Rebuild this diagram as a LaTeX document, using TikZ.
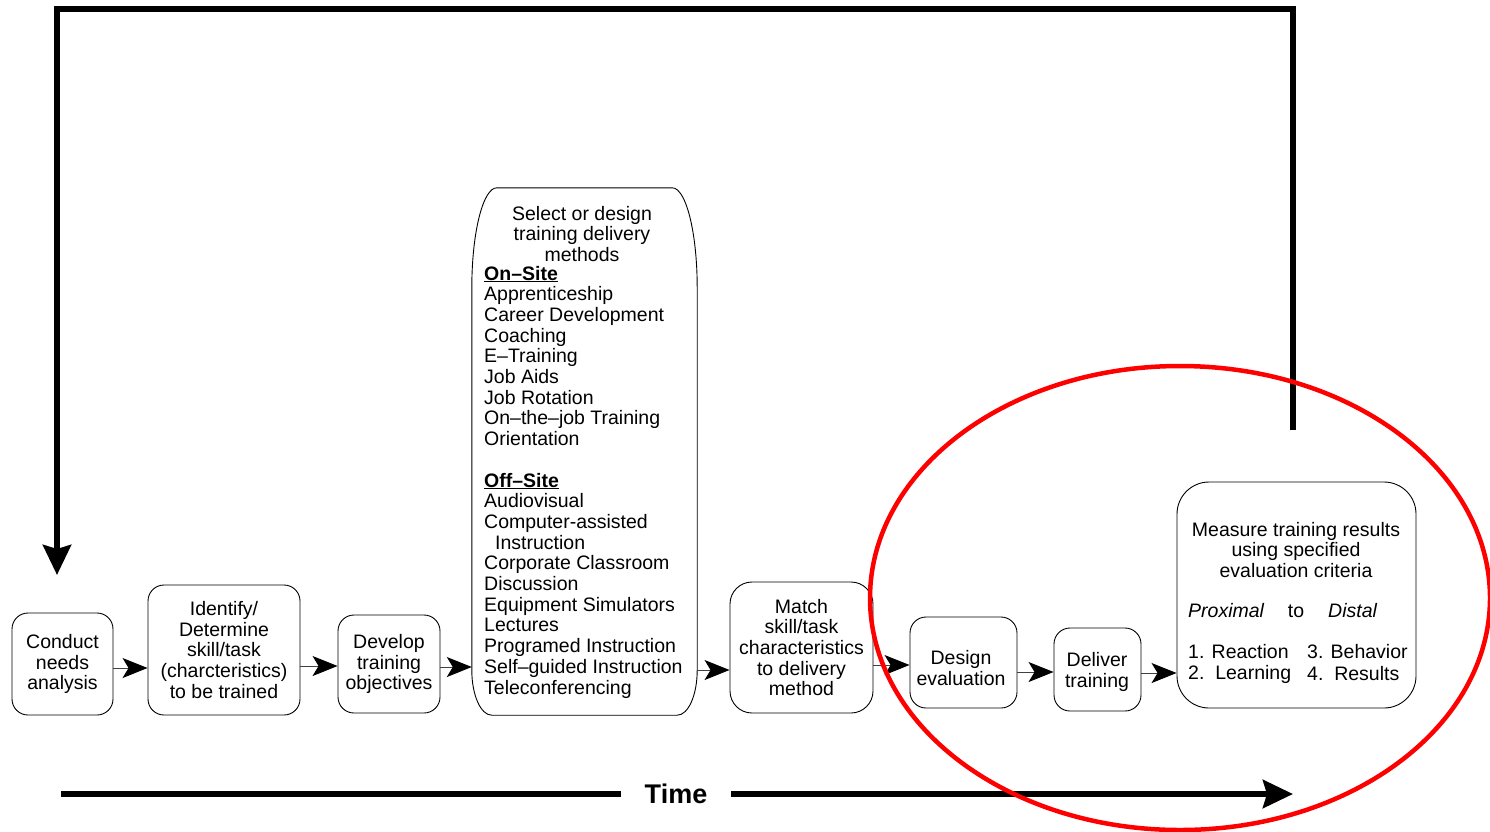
\documentclass[tikz,border=0pt]{standalone}
\usepackage{fontspec}
\setmainfont{Liberation Sans}
\usetikzlibrary{arrows.meta}
\newcommand\bodyfont{\fontsize{19.5}{20.7}\selectfont}
\newcommand\timefont{\fontsize{27}{30}\selectfont\bfseries}
\begin{document}
\begin{tikzpicture}[x=1pt,y=-1pt,
  box/.style={draw, line width=0.9pt, rounded corners=16pt, align=center,
              inner sep=0pt, font=\bodyfont},
  txt/.style={inner sep=0pt, font=\bodyfont},
  flow/.style={draw=black!75, line width=1pt,
               -{Stealth[length=25pt,width=20pt,inset=6pt,black]}},
  heavy/.style={line width=6pt, line join=miter,
               -{Stealth[length=30pt,width=28pt,inset=4pt]}}]
\useasboundingbox (0,0) rectangle (1490,831);

% process steps
\node[box, minimum width=101pt, minimum height=102pt] (conduct) at (62.5,664)
  {Conduct\\needs\\analysis};
\node[box, minimum width=152pt, minimum height=130pt] (identify) at (224,650)
  {Identify/\\Determine\\skill/task\\(charcteristics)\\to be trained};
\node[box, minimum width=102pt, minimum height=98pt] (develop) at (389,664)
  {Develop\\training\\objectives};

% delivery methods column (outline drawn with elliptical corners)
\node[minimum width=225pt, minimum height=527pt, inner sep=0pt] (select) at (584.5,451.5) {};
\draw[line width=0.9pt]
  ([yshift=100pt]select.south west) -- ([yshift=-100pt]select.north west)
  arc[start angle=180, end angle=90, x radius=25pt, y radius=100pt]
  -- ([xshift=-25pt]select.north east)
  arc[start angle=90, end angle=0, x radius=25pt, y radius=100pt]
  -- ([yshift=45pt]select.south east)
  arc[start angle=0, end angle=-90, x radius=20pt, y radius=45pt]
  -- ([xshift=20pt]select.south west)
  arc[start angle=270, end angle=180, x radius=20pt, y radius=45pt]
  -- cycle;
\node[txt, align=center] (seltitle) at (582,234)
  {Select or design\\training delivery\\methods};
\node[txt, align=left, anchor=west] (sellist) at (484,482)
  {\underline{\textbf{On–Site}}\\
   Apprenticeship\\
   Career Development\\
   Coaching\\
   E–Training\\
   Job Aids\\
   Job Rotation\\
   On–the–job Training\\
   Orientation\\[20.7pt]
   \underline{\textbf{Off–Site}}\\
   Audiovisual\\
   Computer-assisted\\
   \hspace*{11pt}Instruction\\
   Corporate Classroom\\
   Discussion\\
   Equipment Simulators\\
   Lectures\\
   Programed Instruction\\
   Self–guided Instruction\\
   Teleconferencing};

\node[box, rounded corners=22pt, minimum width=143pt, minimum height=131pt] (match) at (801.5,647.5)
  {Match\\skill/task\\characteristics\\to delivery\\method};
\node[box, minimum width=107pt, minimum height=91pt] (design) at (963.5,662.5) {};
\node[txt, align=center] (designtxt) at (961,668) {Design\\evaluation};
\node[box, minimum width=87pt, minimum height=83pt] (deliver) at (1097.5,669.5) {};
\node[txt, align=center] (delivertxt) at (1097,672) {Deliver\\training};
\node[box, rounded corners=32pt, minimum width=239pt, minimum height=226pt] (measure) at (1296.5,595) {};
\node[txt, align=center] (mtitle) at (1296,550)
  {Measure training results\\using specified\\evaluation criteria};
\node[txt, anchor=west] (prox) at (1188,611) {\itshape Proximal};
\node[txt] (to) at (1296,611) {to};
\node[txt, anchor=west] (dist) at (1328,611) {\itshape Distal};
\node[txt, anchor=west] (lvla) at (1188,652) {1. Reaction};
\node[txt, anchor=west] (lvlb) at (1188,674) {2.\ \ Learning};
\node[txt, anchor=west] (lvlc) at (1307,652) {3. Behavior};
\node[txt, anchor=west] (lvld) at (1307,674) {4.\ \ Results};

% arrow rows
\coordinate (ra) at (0,668);
\coordinate (rb) at (0,666);
\coordinate (rc) at (0,667);
\coordinate (rd) at (0,670);
\coordinate (re) at (0,665);
\coordinate (rf) at (0,672);
\coordinate (rg) at (0,673);
\draw[flow] (conduct.east |- ra) -- (identify.west |- ra);
\draw[flow] (identify.east |- rb) -- (develop.west |- rb);
\draw[flow] (develop.east |- rc) -- (select.west |- rc);
\draw[flow] (select.east |- rd) -- (match.west |- rd);
\draw[flow] (match.east |- re) -- (design.west |- re);
\draw[flow] (design.east |- rf) -- (deliver.west |- rf);
\draw[flow] (deliver.east |- rg) -- (measure.west |- rg);

% feedback loop
\coordinate (fbstart) at (1293,430);
\coordinate (fbright) at (1293,9);
\coordinate (fbleft) at (57,9);
\coordinate (fbend) at (57,575);
\draw[heavy] (fbstart) -- (fbright) -- (fbleft) -- (fbend);

% time axis
\node[inner xsep=24pt, inner ysep=0pt, font=\timefont] (time) at (676,794) {Time};
\coordinate (tstart) at (61,794);
\coordinate (tend) at (1293,794);
\draw[line width=6pt] (tstart) -- (time.west);
\draw[heavy] (time.east) -- (tend);

% highlighted evaluation phase
\draw[red, line width=4.5pt] (1180,598) ellipse [x radius=310pt, y radius=232pt];
\end{tikzpicture}
\end{document}
